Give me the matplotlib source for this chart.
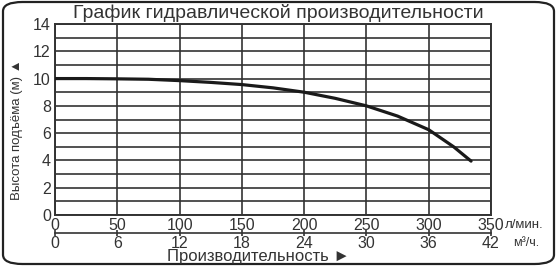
import matplotlib

matplotlib.use("Agg")
import matplotlib.pyplot as plt
from matplotlib.patches import FancyBboxPatch

plt.rcParams["font.family"] = ["Liberation Sans", "DejaVu Sans"]

# pump curve: flow (l/min) vs head (m)
flow_lpm = [0, 25, 50, 75, 100, 125, 150, 175, 200, 225, 250, 275, 300, 320, 334]
head_m = [10.0, 10.0, 9.98, 9.95, 9.85, 9.72, 9.56, 9.32, 9.0, 8.55, 8.0, 7.25, 6.25, 5.0, 3.95]

flow_ticks = [0, 50, 100, 150, 200, 250, 300, 350]
m3h_ticks = [0, 6, 12, 18, 24, 30, 36, 42]
head_ticks = [0, 2, 4, 6, 8, 10, 12, 14]

W, H = 557, 266
fig = plt.figure(figsize=(W / 100, H / 100), dpi=100)

# rounded frame around the whole picture
frame = FancyBboxPatch(
    (3 / W, 2 / H), (W - 6) / W, (H - 4) / H,
    boxstyle="round,pad=0,rounding_size=0.035",
    transform=fig.transFigure, fill=False, edgecolor="#222222", linewidth=1.6,
)
fig.patches.append(frame)

left, right, top, bottom = 55, 491, 24, 215
ax = fig.add_axes([left / W, (H - bottom) / H, (right - left) / W, (bottom - top) / H])
ax.plot(flow_lpm, head_m, color="#1a1a1a", linewidth=2.3, solid_capstyle="round", zorder=3)
ax.set_xlim(0, 350)
ax.set_ylim(0, 14)

ax.set_xticks(flow_ticks)
ax.set_yticks(head_ticks)
ax.set_yticks(range(0, 15), minor=True)
ax.grid(True, which="both", color="#333333", linewidth=1.2)
ax.tick_params(axis="both", which="both", length=0, labelsize=11.5, colors="#333333")
ax.tick_params(axis="x", pad=2)
ax.tick_params(axis="y", pad=3)
for spine in ax.spines.values():
    spine.set_color("#333333")
    spine.set_linewidth(1.4)

# second scale in m3/h
sec = ax.secondary_xaxis(-(233 - bottom) / (bottom - top),
                         functions=(lambda q: q * 0.12, lambda v: v / 0.12))
sec.set_xticks(m3h_ticks)
sec.spines["bottom"].set_color("#333333")
sec.spines["bottom"].set_linewidth(1.2)
sec.tick_params(direction="inout", length=4, width=1.2, labelsize=11.5,
                colors="#333333", pad=0)

fig.text(505 / W, 1 - 225 / H, "л/мин.", fontsize=9.5, color="#333333", va="center")
fig.text(513 / W, 1 - 243 / H, "м³/ч.", fontsize=9, color="#333333", va="center")

fig.text(278 / W, 1 - 13.5 / H, "График гидравлической производительности",
         fontsize=14, color="#333333", ha="center", va="center")
fig.text(258 / W, 1 - 257 / H, "Производительность ►",
         fontsize=12, color="#333333", ha="center", va="center")
fig.text(17 / W, 1 - 130 / H, "Высота подъёма (м) ▲",
         fontsize=9.5, color="#333333", ha="center", va="center", rotation=90)

fig.savefig("out.png", dpi=100)
